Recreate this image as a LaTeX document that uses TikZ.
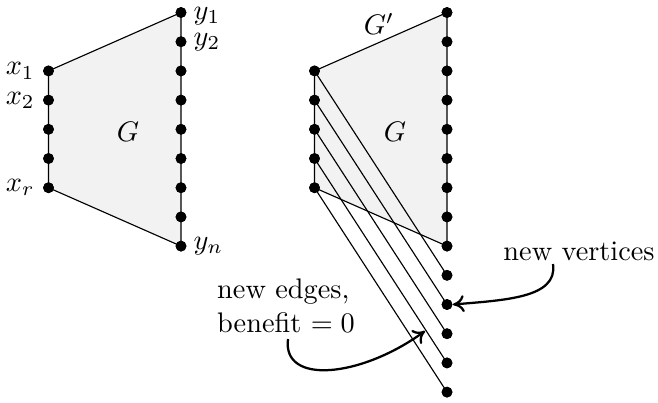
\documentclass[tikz,border=0pt]{standalone}
\usetikzlibrary{arrows.meta}
\begin{document}
\begin{tikzpicture}[x=0.3535pt,y=-0.3535pt,
  dot/.style={circle,fill=black,inner sep=0pt,minimum size=3.8pt},
  edge/.style={draw=black,line width=0.4pt},
  region/.style={fill=black!5},
  lbll/.style={anchor=east,inner xsep=2.6pt,inner ysep=0pt},
  lblr/.style={anchor=west,inner xsep=2.2pt,inner ysep=0pt},
  callout/.style={draw=black,line width=0.8pt,-{To[length=4pt,width=6pt]}}]
\useasboundingbox (0,0) rectangle (658,402);
% coordinates
\foreach \k in {2,...,6} {
  \coordinate (pa\k) at (48.5,12.5+29.2*\k);
  \coordinate (pc\k) at (314.5,12.5+29.2*\k);
}
\foreach \k in {0,...,8} {
  \coordinate (pb\k) at (181,12.5+29.2*\k);
  \coordinate (pd\k) at (447,12.5+29.2*\k);
}
\foreach \k in {9,...,13} {
  \coordinate (pd\k) at (447,12.5+29.2*\k);
}
% shaded regions
\path[region] (pa2) -- (pb0) -- (pb8) -- (pa6) -- cycle;
\path[region] (pc2) -- (pd0) -- (pd8) -- (pc6) -- cycle;
% dot nodes
\foreach \k in {2,...,6} {
  \node[dot] (a\k) at (pa\k) {};
  \node[dot] (c\k) at (pc\k) {};
}
\foreach \k in {0,...,13} {
  \node[dot] (d\k) at (pd\k) {};
}
\foreach \k in {0,...,8} {
  \node[dot] (b\k) at (pb\k) {};
}
% left figure edges
\draw[edge] (a2.center) -- (b0.center) -- (b8.center) -- (a6.center) -- cycle;
% right figure edges
\draw[edge] (c2.center) -- (d0.center) -- (d8.center) -- (c6.center) -- cycle;
\draw[edge] (c2.center) -- (d9.center);
\draw[edge] (c3.center) -- (d10.center);
\draw[edge] (c4.center) -- (d11.center);
\draw[edge] (c5.center) -- (d12.center);
\draw[edge] (c6.center) -- (d13.center);
% dots on top of edges
\foreach \k in {2,...,6} {
  \fill (a\k) circle (5.4);
  \fill (c\k) circle (5.4);
}
\foreach \k in {0,...,8} { \fill (b\k) circle (5.4); }
\foreach \k in {0,...,13} { \fill (d\k) circle (5.4); }
% labels
\node[lbll] (lx1) at (a2.west) {$x_1$};
\node[lbll] (lx2) at (a3.west) {$x_2$};
\node[lbll] (lxr) at (a6.west) {$x_r$};
\node[lblr] (ly1) at ([yshift=-1.3pt]b0.east) {$y_1$};
\node[lblr] (ly2) at (b1.east) {$y_2$};
\node[lblr] (lyn) at (b8.east) {$y_n$};
\node (g1) at (128,132) {$G$};
\node (g2) at (395,132) {$G$};
\node (gp) at (379,24) {$G'$};
\node (nv) at (579,251) {new vertices};
\node[align=left] (ne) at (286,306) {new edges,\\benefit $=0$};
% callouts
\draw[callout] (553,264) .. controls (558,298) and (505,300) .. (d10.east);
\coordinate (tipe) at (425,331);
\draw[callout] (288,339) .. controls (282,385) and (360,378) .. (tipe);
\end{tikzpicture}
\end{document}
